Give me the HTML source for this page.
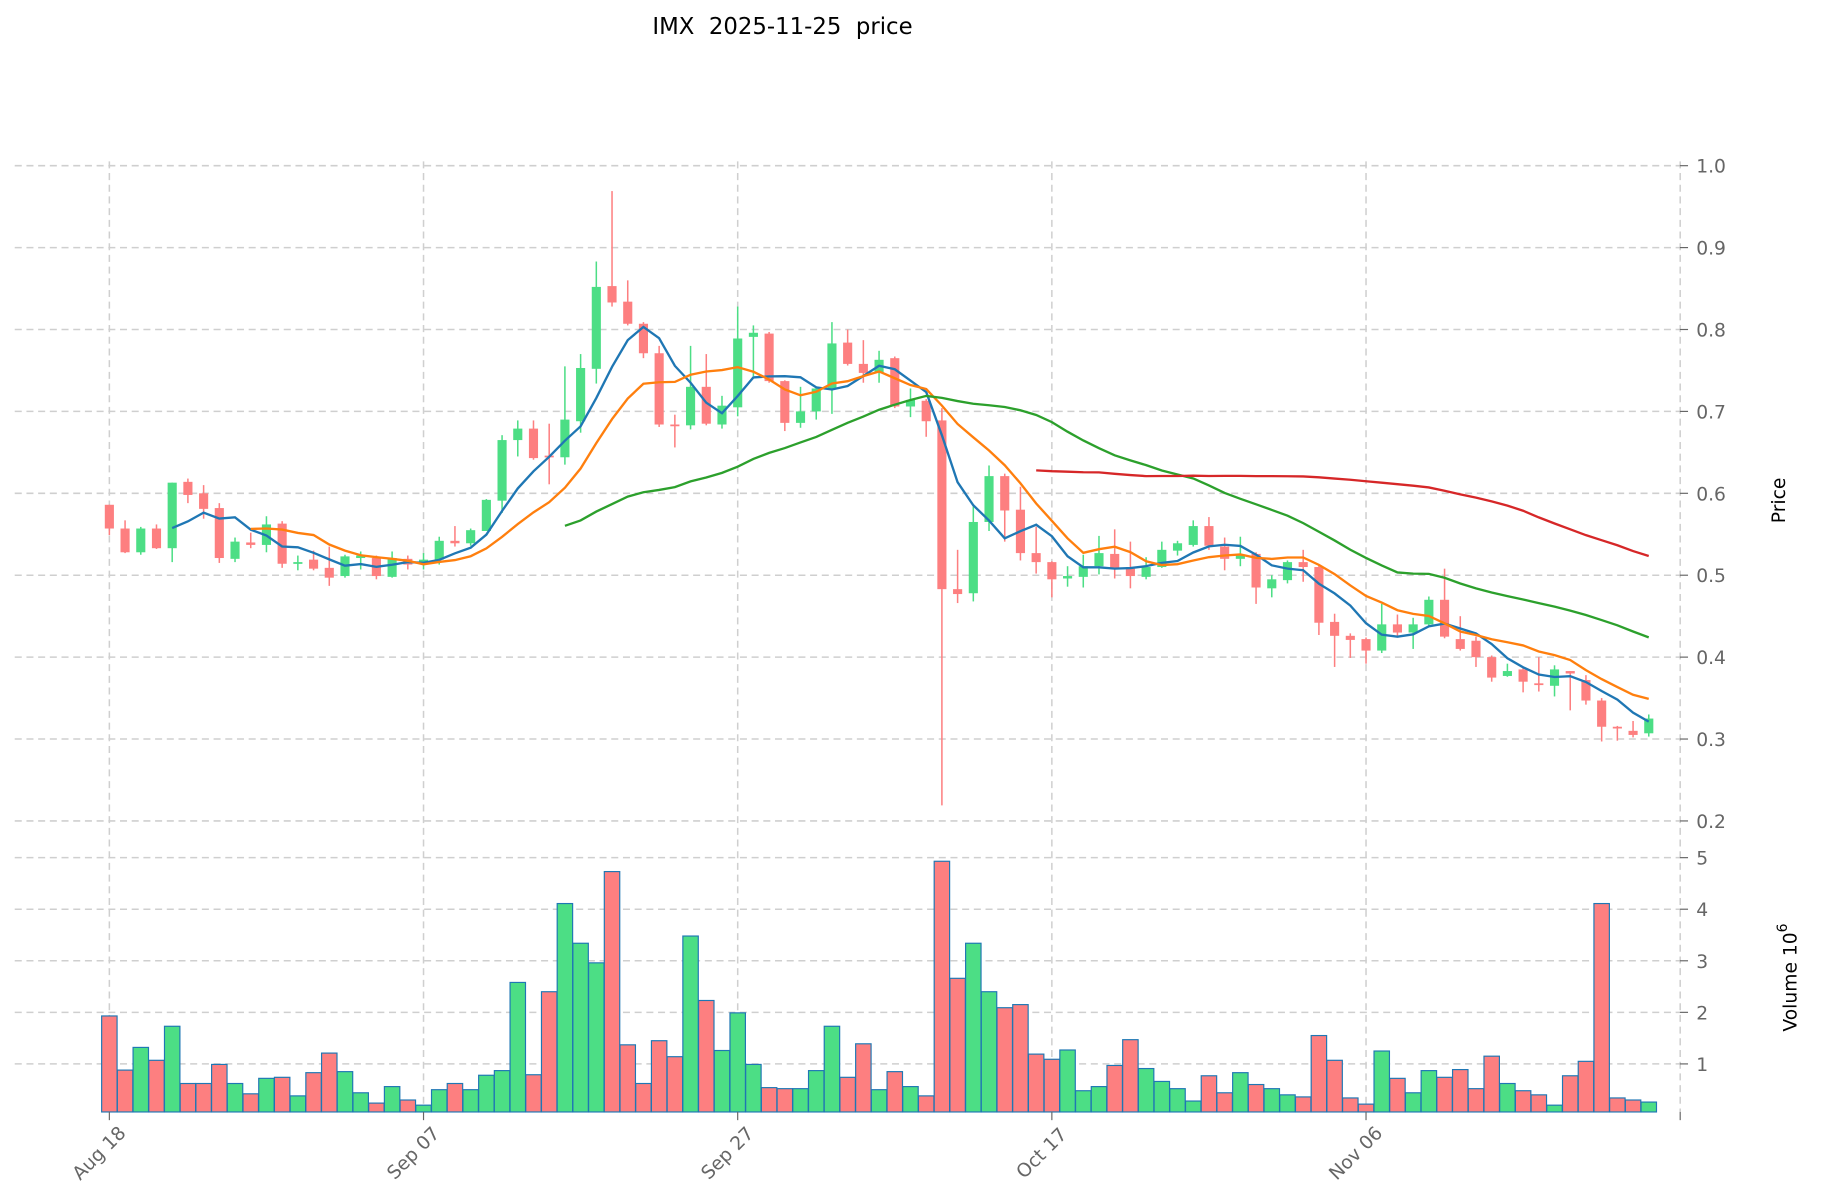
<!DOCTYPE html>
<html><head><meta charset="utf-8"><style>html,body{margin:0;padding:0;background:#fff}svg{display:block}</style></head>
<body>
<svg id="s" xmlns="http://www.w3.org/2000/svg" width="1834" height="1202" viewBox="0 0 1568 1028" preserveAspectRatio="none" font-family="DejaVu Sans, Liberation Sans, sans-serif">
<rect width="1568" height="1028" fill="#fff"/>
<text x="669" y="29" font-size="19.5" text-anchor="middle" fill="#000" xml:space="preserve">IMX&#160; 2025-11-25&#160; price</text>
<g id="grid"></g><g id="vol"></g><g id="cand"></g><g id="ma"></g><g id="ax"></g>
<text transform="translate(1526,428) rotate(-90)" font-size="16" text-anchor="middle" fill="#000">Price</text>
<text transform="translate(1536,836) rotate(-90)" font-size="16" text-anchor="middle" fill="#000">Volume  10<tspan dy="-8" font-size="12">6</tspan></text>
</svg>
<script>
var D=[[.586,.557,.586,.549],[.557,.528,.567,.527],[.528,.557,.559,.525],[.557,.533,.562,.532],[.533,.613,.613,.516],[.614,.598,.618,.588],[.600,.581,.610,.569],[.582,.521,.588,.515],[.520,.541,.546,.516],[.540,.537,.552,.533],[.537,.562,.572,.528],[.563,.514,.566,.509],[.515,.516,.524,.506],[.519,.508,.530,.506],[.509,.497,.535,.487],[.499,.523,.525,.497],[.521,.524,.529,.507],[.521,.499,.524,.495],[.498,.521,.529,.497],[.520,.513,.524,.507],[.516,.519,.527,.507],[.519,.542,.547,.513],[.542,.539,.560,.535],[.539,.555,.557,.536],[.554,.592,.593,.576],[.591,.665,.671,.576],[.665,.679,.689,.645],[.679,.643,.689,.641],[.646,.644,.685,.611],[.644,.690,.755,.635],[.688,.753,.770,.674],[.752,.852,.883,.734],[.853,.833,.969,.828],[.834,.807,.860,.805],[.807,.771,.809,.765],[.771,.684,.780,.681],[.684,.683,.696,.656],[.683,.730,.780,.678],[.730,.685,.770,.683],[.684,.707,.719,.679],[.705,.789,.828,.694],[.791,.796,.805,.743],[.795,.737,.797,.735],[.737,.686,.738,.676],[.686,.700,.730,.680],[.700,.728,.730,.690],[.728,.783,.809,.697],[.784,.758,.800,.756],[.758,.747,.787,.735],[.747,.763,.774,.735],[.765,.706,.767,.704],[.706,.714,.728,.693],[.713,.688,.715,.669],[.689,.483,.704,.219],[.483,.477,.531,.466],[.478,.565,.584,.468],[.565,.621,.634,.554],[.621,.579,.624,.541],[.580,.527,.608,.518],[.527,.516,.559,.502],[.516,.495,.517,.473],[.496,.499,.511,.486],[.498,.511,.525,.485],[.511,.527,.548,.501],[.526,.508,.556,.496],[.508,.499,.541,.484],[.498,.510,.522,.495],[.510,.531,.541,.509],[.530,.539,.542,.524],[.537,.560,.567,.535],[.560,.536,.571,.531],[.535,.520,.546,.506],[.520,.524,.547,.511],[.526,.485,.528,.465],[.484,.495,.500,.473],[.494,.516,.518,.490],[.516,.510,.531,.492],[.510,.442,.512,.427],[.443,.426,.453,.388],[.426,.421,.429,.399],[.422,.408,.424,.392],[.408,.440,.465,.405],[.440,.430,.452,.425],[.430,.440,.448,.410],[.440,.470,.474,.438],[.470,.425,.508,.423],[.422,.410,.450,.408],[.420,.400,.425,.388],[.400,.375,.402,.370],[.377,.383,.392,.376],[.385,.370,.388,.357],[.368,.366,.400,.358],[.365,.385,.390,.352],[.383,.380,.383,.335],[.372,.347,.378,.342],[.347,.315,.350,.297],[.315,.314,.316,.298],[.310,.305,.322,.302],[.307,.325,.330,.303]];
var V=[1.93,.88,1.32,1.07,1.73,.62,.62,.99,.62,.42,.72,.74,.38,.83,1.21,.85,.44,.24,.56,.30,.20,.50,.62,.50,.78,.87,2.58,.79,2.40,4.11,3.34,2.96,4.73,1.37,.62,1.45,1.14,3.48,2.23,1.26,1.99,.99,.54,.52,.52,.87,1.73,.74,1.39,.50,.85,.56,.38,4.93,2.66,3.34,2.40,2.09,2.15,1.19,1.09,1.27,.48,.56,.97,1.47,.91,.66,.52,.28,.77,.44,.83,.60,.52,.40,.36,1.55,1.07,.34,.22,1.25,.72,.44,.87,.74,.89,.52,1.15,.62,.48,.40,.20,.77,1.05,4.11,.34,.30,.26];
var NS='http://www.w3.org/2000/svg';
function el(g,t,a,txt){var e=document.createElementNS(NS,t);for(var k in a)e.setAttribute(k,a[k]);if(txt!=null)e.textContent=txt;document.getElementById(g).appendChild(e);return e;}
function X(i){return 93.5+13.43*i;}
function PY(p){return 141.7+(1-p)*700.5;}
function VY(v){return 954-v*44.1;}
var L=12.6,R=1436.2,gc='#cfcfcf',dash='6,4';
for(var k=2;k<=10;k++){var y=PY(k/10);el('grid','line',{x1:L,x2:R,y1:y,y2:y,stroke:gc,'stroke-width':1.3,'stroke-dasharray':dash});
el('ax','line',{x1:R,x2:R+7,y1:y,y2:y,stroke:'#666','stroke-width':1});
el('ax','text',{x:R+14,y:y+6,'font-size':16,fill:'#666'},(k/10).toFixed(1));}
for(var v=1;v<=5;v++){var y=VY(v);el('grid','line',{x1:L,x2:R,y1:y,y2:y,stroke:gc,'stroke-width':1.3,'stroke-dasharray':dash});
el('ax','line',{x1:R,x2:R+7,y1:y,y2:y,stroke:'#666','stroke-width':1});
el('ax','text',{x:R+14,y:y+6,'font-size':16,fill:'#666'},''+v);}
var dates=['Aug 18','Sep 07','Sep 27','Oct 17','Nov 06'];
for(var j=0;j<6;j++){var x=X(j*20);
el('grid','line',{x1:x,x2:x,y1:138,y2:951,stroke:gc,'stroke-width':1.3,'stroke-dasharray':dash});
el('ax','line',{x1:x,x2:x,y1:951,y2:958,stroke:'#666','stroke-width':1});
if(j<5)el('ax','text',{x:0,y:0,'font-size':16,fill:'#666','text-anchor':'middle',transform:'translate('+(x-5)+','+990+') rotate(-45)'},dates[j]);}
var up='#4cde85',dn='#fd7f80';
D.forEach(function(d,i){var x=X(i),c=d[1]>=d[0]?up:dn;
el('cand','line',{x1:x,x2:x,y1:PY(d[2]),y2:PY(d[3]),stroke:c,'stroke-width':1.3});
var t=PY(Math.max(d[0],d[1])),b=PY(Math.min(d[0],d[1]));if(b-t<1.5){b=t+1.5;}
el('cand','rect',{x:x-3.9,y:t,width:7.8,height:b-t,fill:c});
el('vol','rect',{x:x-6.6,y:VY(V[i]),width:13.2,height:951-VY(V[i]),fill:c,stroke:'#1f77b4','stroke-width':1});});
[[5,'#1f77b4'],[10,'#ff7f0e'],[30,'#2ca02c'],[60,'#d62728']].forEach(function(m){var n=m[0],pts=[];
for(var i=n-1;i<D.length;i++){var s=0;for(var k=i-n+1;k<=i;k++)s+=D[k][1];pts.push(X(i).toFixed(1)+','+PY(s/n).toFixed(1));}
el('ma','polyline',{points:pts.join(' '),fill:'none',stroke:m[1],'stroke-width':2});});
</script>
</body></html>
